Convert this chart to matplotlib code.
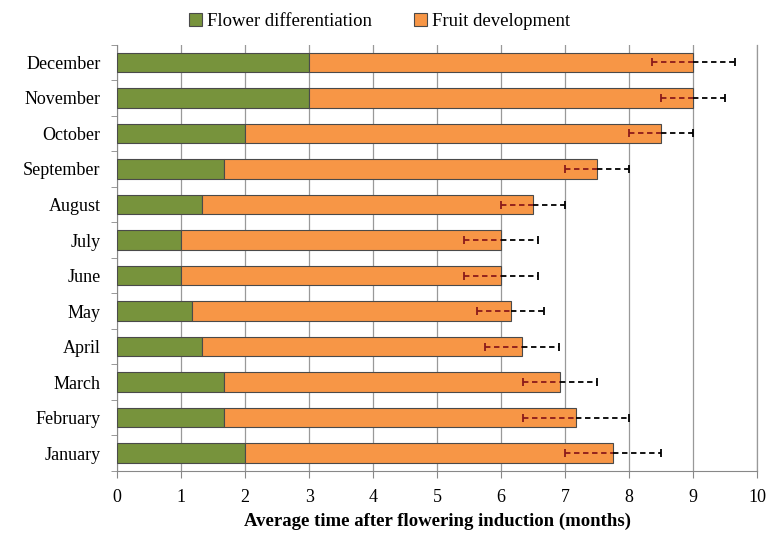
import numpy as np
import matplotlib.pyplot as plt

# ==========================================
# DATA
# ==========================================
months = ["January", "February", "March", "April", "May", "June",
          "July", "August", "September", "October", "November", "December"]

flower_diff = [2.0, 1.67, 1.67, 1.33, 1.17, 1.0, 1.0, 1.33, 1.67, 2.0, 3.0, 3.0]
total_time = [7.75, 7.17, 6.92, 6.33, 6.15, 6.0, 6.0, 6.5, 7.5, 8.5, 9.0, 9.0]
error = [0.75, 0.83, 0.58, 0.58, 0.52, 0.58, 0.58, 0.5, 0.5, 0.5, 0.5, 0.65]

fruit_dev = [t - f for t, f in zip(total_time, flower_diff)]

GREEN = "#77933C"
ORANGE = "#F79646"

# ==========================================
# PLOT
# ==========================================
plt.rcParams["font.family"] = ["Liberation Serif", "DejaVu Serif"]

fig = plt.figure(figsize=(7.71, 5.45), dpi=100)
ax = fig.add_axes([0.152, 0.136, 0.83, 0.782])

y = np.arange(len(months))
bar_h = 0.55

ax.barh(y, flower_diff, height=bar_h, color=GREEN, edgecolor="#4a4a4a",
        linewidth=0.8, label="Flower differentiation", zorder=3)
ax.barh(y, fruit_dev, left=flower_diff, height=bar_h, color=ORANGE,
        edgecolor="#4a4a4a", linewidth=0.8, label="Fruit development", zorder=3)

# error bars: minus side in dark red, plus side in black, both dashed
zeros = [0] * len(error)
eb_lo = ax.errorbar(total_time, y, xerr=[error, zeros], fmt="none",
                    ecolor="#8B1A1A", elinewidth=1.3, capsize=3, capthick=1.3,
                    zorder=4)
eb_hi = ax.errorbar(total_time, y, xerr=[zeros, error], fmt="none",
                    ecolor="black", elinewidth=1.3, capsize=3, capthick=1.3,
                    zorder=4)
for eb in (eb_lo, eb_hi):
    eb[2][0].set_linestyle((0, (3, 2)))
# hide the cap that sits on the bar end
eb_lo[1][1].set_visible(False)
eb_hi[1][0].set_visible(False)

ax.set_xlim(0, 10)
ax.set_ylim(-0.5, len(months) - 0.5)
ax.set_xticks(range(0, 11))
ax.set_yticks(y)
ax.set_yticklabels(months, fontsize=13)
ax.set_yticks(np.arange(-0.5, len(months), 1), minor=True)
ax.tick_params(axis="y", which="major", length=0, pad=12)
ax.tick_params(axis="y", which="minor", length=4, color="#888888")
ax.tick_params(axis="x", length=5, color="#888888", labelsize=13, pad=8)

ax.grid(axis="x", color="#999999", linewidth=0.9, zorder=0)
ax.axvline(10, color="#999999", linewidth=0.9, zorder=0, clip_on=False)
for side in ("top", "right"):
    ax.spines[side].set_visible(False)
for side in ("left", "bottom"):
    ax.spines[side].set_color("#888888")

ax.set_xlabel("Average time after flowering induction (months)",
              fontsize=13.5, fontweight="bold", labelpad=5)

ax.legend(loc="lower center", bbox_to_anchor=(0.41, 1.0), ncol=2,
          frameon=False, fontsize=13.5, handlelength=0.7, handleheight=0.7,
          handletextpad=0.3, columnspacing=2.2, borderaxespad=0.4)

plt.savefig("out.png", dpi=100)
